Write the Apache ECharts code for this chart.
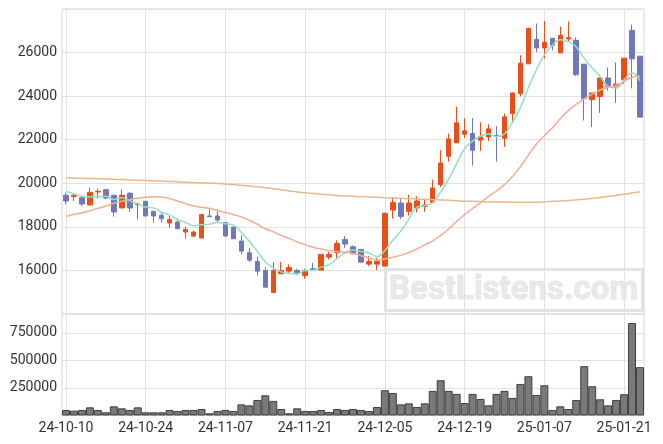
<!DOCTYPE html>
<html>
<head>
<meta charset="utf-8">
<script src="https://cdn.jsdelivr.net/npm/echarts@6/dist/echarts.min.js"></script>
<style>html,body{margin:0;padding:0;background:#fff;}#c{width:663px;height:444px;}</style>
</head>
<body>
<div id="c"></div>
<script>
const dates = ['24-10-10','24-10-11','24-10-14','24-10-15','24-10-16','24-10-17','24-10-18','24-10-21','24-10-22','24-10-23',
'24-10-24','24-10-25','24-10-28','24-10-29','24-10-30','24-10-31','24-11-01','24-11-04','24-11-05','24-11-06',
'24-11-07','24-11-08','24-11-11','24-11-12','24-11-13','24-11-14','24-11-15','24-11-18','24-11-19','24-11-20',
'24-11-21','24-11-22','24-11-25','24-11-26','24-11-27','24-11-28','24-11-29','24-12-02','24-12-03','24-12-04',
'24-12-05','24-12-06','24-12-09','24-12-10','24-12-11','24-12-12','24-12-13','24-12-16','24-12-17','24-12-18',
'24-12-19','24-12-20','24-12-23','24-12-24','24-12-26','24-12-27','24-12-30','25-01-02','25-01-03','25-01-06',
'25-01-07','25-01-08','25-01-09','25-01-10','25-01-13','25-01-14','25-01-15','25-01-16','25-01-17','25-01-20',
'25-01-21','25-01-22','25-01-23'];

const opens = [19448,19387,19340,19003,19601,19709,19448,18866,19540,19019,
19172,18712,18528,18176,18222,17762,17578,17486,18500,18498,
18191,17992,17348,16811,16413,15999,14989,15846,15968,15999,
15769,16076,16014,16612,16811,17424,17087,16965,16290,16290,
16198,18774,19094,18711,18864,18941,19125,19937,21241,21854,
22252,22283,21977,22130,22191,22068,23202,24115,25483,26608,
26213,26654,25985,26623,26562,25468,23842,23978,24830,24465,
24754,27018,25833];
const closes = [19187,19448,19050,19586,19632,19325,18682,19448,18866,19050,
18498,18498,18375,18344,17915,17884,17762,18574,18467,18314,
17578,17455,16888,16474,15968,15232,15999,15999,16137,15846,
15999,16045,16735,16735,17240,17210,16765,16382,16413,16413,
18620,19111,18481,19094,19186,19002,19784,20934,22038,22774,
22406,21517,22130,22498,22160,23049,24146,25514,27110,26213,
26471,26334,26790,26684,24982,23887,24146,24830,24450,24556,
25742,25711,23036];
const lows = [19034,19187,18957,18990,19295,19264,18467,18866,18682,18344,
18498,18191,18191,17961,17915,17455,17520,17486,18467,18191,
17578,17455,16735,16382,15769,15232,14989,15846,15846,15800,
15616,15999,16014,16505,16566,17041,16735,16352,16198,16014,
16198,18375,18359,18512,18665,18696,19125,19830,20995,21854,
22084,20811,21486,21931,20995,21670,22835,23994,25483,26030,
25726,26091,25985,26532,24936,22884,22580,23234,24252,23690,
24556,24358,23036];
const highs = [19571,19540,19417,19800,19755,19709,19448,19724,19601,19111,
19172,18712,18651,18498,18375,18007,17830,18574,18804,18804,
18191,17992,17624,17026,16627,16152,16382,16382,16275,16076,
16076,16352,16735,16842,17378,17578,17148,16965,16658,16566,
18650,19371,19324,19462,19401,19278,20167,21517,22283,23509,
22988,22988,22804,22712,22620,23202,24153,25878,27140,27338,
27444,26654,27186,27429,26684,25468,24146,24830,25316,25544,
25742,27292,25833];
const volumes = [50000,44000,50000,74000,50000,29000,83000,65000,50000,74000,
29000,29000,29000,50000,41000,50000,50000,59000,20000,41000,
50000,41000,101000,92000,141000,183000,132000,59000,20000,65000,
41000,41000,50000,32000,59000,50000,59000,50000,41000,77000,
229000,204000,101000,110000,77000,110000,223000,320000,223000,196000,
113000,196000,150000,92000,196000,223000,159000,286000,356000,186000,
274000,50000,83000,59000,141000,447000,265000,147000,92000,141000,
193000,838000,438000];
const ma5 = [19630,19520,19410,19380,19381,19408,19255,19335,19191,19074,
18909,18872,18657,18553,18326,18203,18056,18096,18120,18200,
18139,18078,17740,17342,16873,16403,16112,15934,15867,15843,
15996,16005,16152,16272,16551,16793,16937,16866,16802,16637,
16919,17388,17808,18344,18898,18975,19109,19600,20189,20906,
21587,21934,22173,22265,22142,22271,22797,23473,24396,25206,
25891,26328,26584,26498,26252,25735,25298,24906,24459,24374,
24745,25058,24699];
const ma20 = [18470,18574,18650,18743,18850,18957,19080,19172,19249,19310,
19356,19387,19371,19295,19187,19065,18957,18896,18850,18745,
18665,18565,18457,18301,18118,17914,17779,17607,17471,17310,
17185,17063,16981,16900,16867,16833,16783,16673,16571,16476,
16528,16611,16690,16821,16982,17171,17360,17607,17902,18248,
18568,18842,19112,19400,19646,19938,20307,20764,21298,21788,
22181,22542,22958,23337,23627,23871,24089,24284,24405,24494,
24660,24870,24915];
const maLong = [20250,20240,20230,20220,20210,20200,20185,20170,20155,20140,
20130,20115,20100,20085,20070,20050,20035,20020,20005,19990,
19970,19940,19910,19880,19840,19800,19750,19700,19650,19600,
19560,19530,19500,19470,19440,19420,19400,19385,19370,19355,
19340,19325,19310,19295,19280,19265,19250,19235,19220,19200,
19180,19170,19160,19150,19145,19140,19135,19130,19130,19135,
19150,19170,19190,19210,19240,19270,19310,19350,19390,19440,
19500,19550,19610];

const candles = opens.map((o, i) => [o, closes[i], lows[i], highs[i]]);
const UP = '#E8501A', DOWN = '#7078BA';
const gridColor = '#e2e2e2';
const labelStyle = {color: '#333', fontSize: 13, fontFamily: 'Roboto'};
const plain = v => String(v);

const chart = echarts.init(document.getElementById('c'), null, {renderer: 'canvas'});
chart.setOption({
  animation: false,
  backgroundColor: '#fff',
  grid: [
    {left: 62, right: 19, top: 9, height: 305, show: true, borderColor: '#d6d6d6', borderWidth: 1},
    {left: 62, right: 19, top: 314, bottom: 28.5, show: true, borderColor: '#d6d6d6', borderWidth: 1}
  ],
  xAxis: [
    {type: 'category', gridIndex: 0, data: dates, boundaryGap: true,
     axisLine: {show: false}, axisTick: {show: false}, axisLabel: {show: false},
     splitLine: {show: true, interval: 9, alignWithLabel: true, lineStyle: {color: gridColor}}},
    {type: 'category', gridIndex: 1, data: dates, boundaryGap: true,
     axisLine: {show: false}, axisTick: {show: false},
     axisLabel: Object.assign({interval: 9, margin: 6}, labelStyle, {fontSize: 14}),
     splitLine: {show: true, interval: 9, alignWithLabel: true, lineStyle: {color: gridColor}}}
  ],
  yAxis: [
    {type: 'value', gridIndex: 0, min: 14000, max: 28000, interval: 2000,
     axisLine: {show: false}, axisTick: {show: false},
     axisLabel: Object.assign({showMinLabel: false, showMaxLabel: false, margin: 5, formatter: plain}, labelStyle, {fontSize: 14}),
     splitLine: {show: true, lineStyle: {color: gridColor}}},
    {type: 'value', gridIndex: 1, min: 0, max: 920000, interval: 250000,
     axisLine: {show: false}, axisTick: {show: false},
     axisLabel: Object.assign({showMinLabel: false, showMaxLabel: false, margin: 5, formatter: plain}, labelStyle, {fontSize: 14}),
     splitLine: {show: true, lineStyle: {color: gridColor}}}
  ],
  graphic: [{
    type: 'group', left: 383, top: 267, z: 0,
    children: [
      {type: 'rect', shape: {x: 1, y: 1, width: 257, height: 41},
       style: {fill: 'none', stroke: 'rgba(215,215,215,0.7)', lineWidth: 3}},
      {type: 'text', x: 129, y: 22,
       style: {text: 'BestListens.com', font: 'bold 33px Roboto', fill: 'rgba(228,228,228,0.8)',
               stroke: 'rgba(210,210,210,0.5)', lineWidth: 1, align: 'center', verticalAlign: 'middle'}}
    ]
  }],
  series: [
    {type: 'candlestick', xAxisIndex: 0, yAxisIndex: 0, data: candles, barWidth: 5, z: 3,
     itemStyle: {color: UP, color0: DOWN, borderColor: UP, borderColor0: DOWN, borderWidth: 1}},
    {type: 'line', xAxisIndex: 0, yAxisIndex: 0, data: ma5, showSymbol: false, smooth: true, z: 4,
     lineStyle: {color: '#96dec4', width: 1.5}},
    {type: 'line', xAxisIndex: 0, yAxisIndex: 0, data: ma20, showSymbol: false, smooth: true, z: 4,
     lineStyle: {color: '#f2ad94', width: 1.5}},
    {type: 'line', xAxisIndex: 0, yAxisIndex: 0, data: maLong, showSymbol: false, smooth: true, z: 4,
     lineStyle: {color: '#ebb78d', width: 1.5}},
    {type: 'bar', xAxisIndex: 1, yAxisIndex: 1, data: volumes, barCategoryGap: '0%', z: 3,
     itemStyle: {color: '#7a7a7a', borderColor: '#3f3f3f', borderWidth: 1}}
  ]
});
</script>
</body>
</html>
